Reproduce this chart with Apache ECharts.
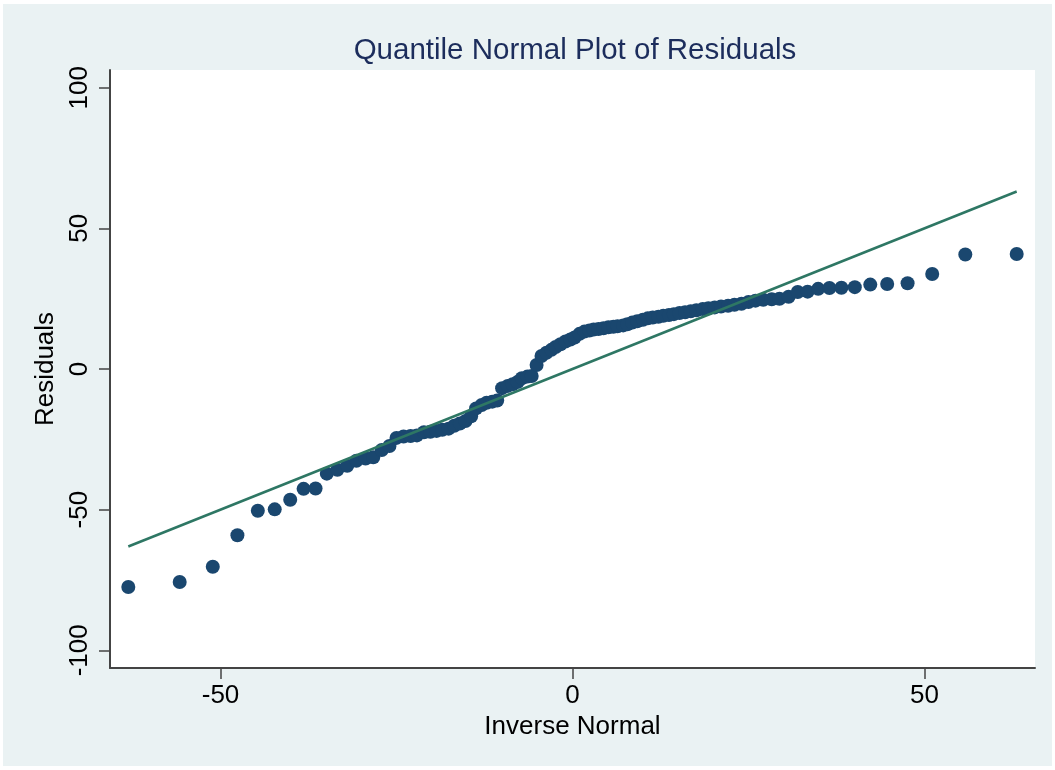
<!DOCTYPE html>
<html>
<head>
<meta charset="utf-8">
<script src="https://cdn.jsdelivr.net/npm/echarts@6/dist/echarts.min.js"></script>
<style>html,body{margin:0;padding:0;background:#fff}#c{width:1055px;height:770px}</style>
</head>
<body>
<div id="c"></div>
<script>
// Inverse normal (x) values, ascending
const inverseNormal = [
  -63.1,-55.8,-51.1,-47.6,-44.7,-42.3,-40.1,-38.2,-36.5,-34.9,
  -33.4,-32.0,-30.7,-29.4,-28.3,-27.1,-26.0,-25.0,-24.0,-23.0,
  -22.1,-21.1,-20.2,-19.3,-18.5,-17.6,-16.8,-16.0,-15.2,-14.4,
  -13.7,-12.9,-12.2,-11.4,-10.7,-10.0,-9.2,-8.5,-7.8,-7.2,
  -6.4,-5.8,-5.1,-4.4,-3.7,-3.0,-2.4,-1.7,-1.0,-0.3,
  0.3,1.0,1.7,2.4,3.0,3.7,4.4,5.1,5.8,6.4,
  7.2,7.8,8.5,9.2,10.0,10.7,11.4,12.2,12.9,13.7,
  14.4,15.2,16.0,16.8,17.6,18.5,19.3,20.2,21.1,22.1,
  23.0,24.0,25.0,26.0,27.1,28.3,29.4,30.7,32.0,33.4,
  34.9,36.5,38.2,40.1,42.3,44.7,47.6,51.1,55.8,63.1
];
// Sorted residuals (y)
const residuals = [
  -77.5,-75.7,-70.3,-59.1,-50.4,-49.9,-46.5,-42.6,-42.5,-37.2,
  -35.8,-34.4,-32.6,-31.8,-31.4,-28.8,-27.4,-24.5,-24.0,-23.8,
  -23.6,-22.5,-22.3,-22.0,-21.6,-21.2,-20.2,-19.4,-18.5,-16.8,
  -14.0,-12.8,-12.0,-11.6,-11.2,-6.8,-6.0,-5.4,-4.6,-3.3,
  -2.7,-2.5,1.4,4.6,5.8,6.8,7.8,8.8,9.8,10.5,
  11.2,12.5,13.3,13.7,14.0,14.2,14.5,14.8,15.0,15.2,
  15.5,15.9,16.5,17.0,17.5,18.0,18.3,18.6,18.9,19.2,
  19.5,19.9,20.2,20.5,20.9,21.3,21.6,21.9,22.2,22.5,
  22.8,23.2,23.8,24.3,24.6,24.8,25.0,25.7,27.4,27.5,
  28.5,28.8,28.9,29.1,30.0,30.2,30.5,33.8,40.7,40.9
];
// Reference line y = x endpoints
const refLine = [[-63.1,-63.1],[63.1,63.1]];
const xTicks = [-50, 0, 50];
const yTicks = [-100, -50, 0, 50, 100];

const points = inverseNormal.map((x, i) => [x, residuals[i]]);
const FONT = 'Liberation Sans, Arial, sans-serif';

const chart = echarts.init(document.getElementById('c'), null, {renderer: 'canvas'});
chart.setOption({
  backgroundColor: '#ffffff',
  animation: false,
  graphic: {
    elements: [{
      type: 'rect', z: -10, silent: true,
      shape: {x: 3, y: 4, width: 1049, height: 762},
      style: {fill: '#EAF2F3'}
    }]
  },
  title: {
    text: 'Quantile Normal Plot of Residuals',
    left: 570, top: 31, textAlign: 'center',
    textStyle: {color: '#1C2D5C', fontSize: 29.5, fontWeight: 'normal', fontFamily: FONT}
  },
  grid: {
    left: 110, top: 70, right: 20, bottom: 102,
    show: true, backgroundColor: '#ffffff', borderWidth: 0
  },
  xAxis: {
    type: 'value', min: -65.7, max: 65.7,
    name: 'Inverse Normal', nameLocation: 'middle', nameGap: 41,
    nameTextStyle: {color: '#000', fontSize: 26, fontFamily: FONT},
    axisLine: {show: true, onZero: false, lineStyle: {color: '#444', width: 2}},
    axisTick: {show: true, length: 11, customValues: xTicks, lineStyle: {color: '#444', width: 1.5}},
    axisLabel: {customValues: xTicks, color: '#000', fontSize: 26, fontFamily: FONT, margin: 15},
    splitLine: {show: false}
  },
  yAxis: {
    type: 'value', min: -106.3, max: 106.3,
    name: 'Residuals', nameLocation: 'middle', nameGap: 50,
    nameTextStyle: {color: '#000', fontSize: 26, fontFamily: FONT},
    axisLine: {show: true, onZero: false, lineStyle: {color: '#444', width: 2}},
    axisTick: {show: true, length: 11, customValues: yTicks, lineStyle: {color: '#444', width: 1.5}},
    axisLabel: {customValues: yTicks, rotate: 90, color: '#000', fontSize: 26, fontFamily: FONT, margin: 17},
    splitLine: {show: false}
  },
  series: [
    {
      type: 'scatter', data: points, symbol: 'circle', symbolSize: 14,
      itemStyle: {color: '#1A476F', opacity: 1}, z: 2
    },
    {
      type: 'line', data: refLine, showSymbol: false, symbol: 'none',
      lineStyle: {color: '#2E7764', width: 2.5}, z: 3
    }
  ]
});
</script>
</body>
</html>
